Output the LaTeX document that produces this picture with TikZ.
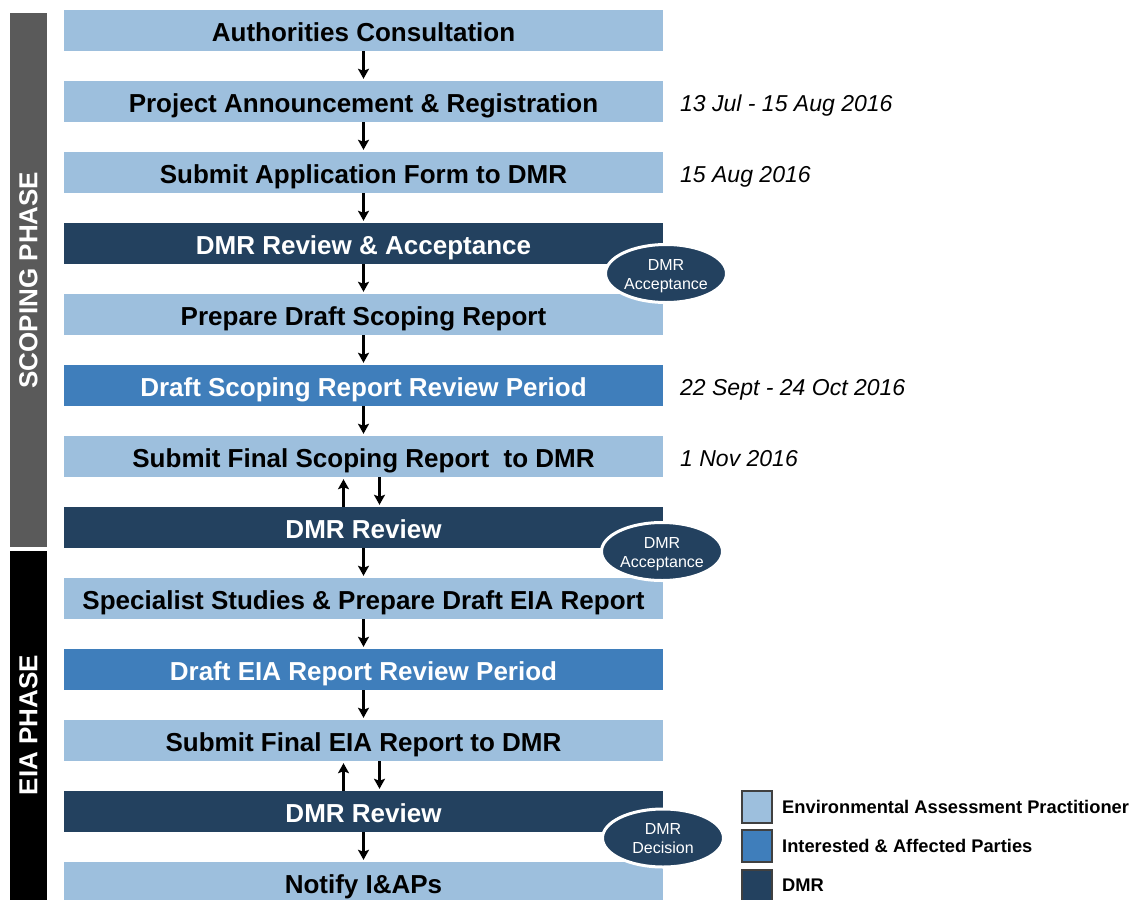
\documentclass[tikz,border=0pt]{standalone}
\usepackage{fontspec}
\setmainfont{Liberation Sans}
\usetikzlibrary{arrows.meta,shapes.geometric}
\definecolor{eap}{HTML}{9DBFDD}
\definecolor{iap}{HTML}{3F7EBB}
\definecolor{dmr}{HTML}{23415F}
\definecolor{scopebar}{HTML}{5A5A5A}
\begin{document}
\begin{tikzpicture}[x=1bp,y=-1bp,
  stagebox/.style={rectangle, minimum width=599bp, minimum height=41bp, inner sep=0pt,
    text height=22.6bp, text depth=0pt,
    font=\fontsize{26bp}{30bp}\selectfont\bfseries},
  eapbox/.style={stagebox, fill=eap, text=black},
  iapbox/.style={stagebox, fill=iap, text=white},
  dmrbox/.style={stagebox, fill=dmr, text=white},
  flow/.style={-{Stealth[length=10bp,width=11bp,inset=2bp]}, line width=2.5bp, black,
    shorten >=2bp},
  datelabel/.style={anchor=base west, inner sep=0pt, font=\fontsize{23bp}{27bp}\selectfont\itshape},
  milestone/.style={ellipse, fill=dmr, draw=white, line width=3bp, minimum width=121bp,
    minimum height=58bp, inner sep=0pt},
  milestonetext/.style={text=white, align=center, inner sep=0pt,
    font=\fontsize{16bp}{19bp}\selectfont},
  phaselabel/.style={rotate=90, text=white, font=\fontsize{26bp}{30bp}\selectfont\bfseries},
  keybox/.style={rectangle, draw=black!75, line width=1.2bp, minimum width=30bp,
    minimum height=32bp, inner sep=0pt},
  keytext/.style={anchor=west, inner sep=0pt, font=\fontsize{18.3bp}{22bp}\selectfont\bfseries}]
\useasboundingbox (0,0) rectangle (1137,900);
\fill[white] (0,0) rectangle (1137,900);

% phase bars
\fill[scopebar] (10,13) rectangle (47,547);
\fill[black] (10,551) rectangle (47,900);
\node[phaselabel] (scoping) at (28.5,280) {SCOPING PHASE};
\node[phaselabel] (eia) at (28.5,725) {EIA PHASE};

% process stages
\node[eapbox] (r1) at (363.5,30.5) {Authorities Consultation};
\node[eapbox] (r2) at (363.5,101.5) {Project Announcement \& Registration};
\node[eapbox] (r3) at (363.5,172.5) {Submit Application Form to DMR};
\node[dmrbox] (r4) at (363.5,243.5) {DMR Review \& Acceptance};
\node[eapbox] (r5) at (363.5,314.5) {Prepare Draft Scoping Report};
\node[iapbox] (r6) at (363.5,385.5) {Draft Scoping Report Review Period};
\node[eapbox] (r7) at (363.5,456.5) {Submit Final Scoping Report\ \ to DMR};
\node[dmrbox] (r8) at (363.5,527.5) {DMR Review};
\node[eapbox] (r9) at (363.5,598.5) {Specialist Studies \& Prepare Draft EIA Report};
\node[iapbox] (r10) at (363.5,669.5) {Draft EIA Report Review Period};
\node[eapbox] (r11) at (363.5,740.5) {Submit Final EIA Report to DMR};
\node[dmrbox] (r12) at (363.5,811.5) {DMR Review};
\node[eapbox] (r13) at (363.5,882.5) {Notify I\&APs};

% connectors
\foreach \a/\b in {r1/r2,r2/r3,r3/r4,r4/r5,r5/r6,r6/r7,r8/r9,r9/r10,r10/r11,r12/r13}
  \draw[flow] (\a.south) -- (\b.north);
\draw[flow] ([xshift=-20bp]r8.north) -- ([xshift=-20bp]r7.south);
\draw[flow] ([xshift=16bp]r7.south) -- ([xshift=16bp]r8.north);
\draw[flow] ([xshift=-20bp]r12.north) -- ([xshift=-20bp]r11.south);
\draw[flow] ([xshift=16bp]r11.south) -- ([xshift=16bp]r12.north);

% milestones
\node[milestone] (m1) at (666,273.5) {};
\node[milestonetext] (m1t) at ([yshift=-3bp]m1.center) {DMR\\Acceptance};
\node[milestone] (m2) at (662,551.5) {};
\node[milestonetext] (m2t) at ([yshift=-3bp]m2.center) {DMR\\Acceptance};
\node[milestone] (m3) at (663,838) {};
\node[milestonetext] (m3t) at ([yshift=-1bp]m3.center) {DMR\\Decision};

% dates
\node[datelabel] (d2) at (680,111) {13 Jul - 15 Aug 2016};
\node[datelabel] (d3) at (680,182) {15 Aug 2016};
\node[datelabel] (d6) at (680,395) {22 Sept - 24 Oct 2016};
\node[datelabel] (d7) at (680,466) {1 Nov 2016};

% legend
\node[keybox, fill=eap] (k1) at (757,807) {};
\node[keybox, fill=iap] (k2) at (757,846) {};
\node[keybox, fill=dmr] (k3) at (757,886) {};
\node[keytext] (t1) at (782,807) {Environmental Assessment Practitioner};
\node[keytext] (t2) at (782,846) {Interested \& Affected Parties};
\node[keytext] (t3) at (782,885) {DMR};
\end{tikzpicture}
\end{document}
